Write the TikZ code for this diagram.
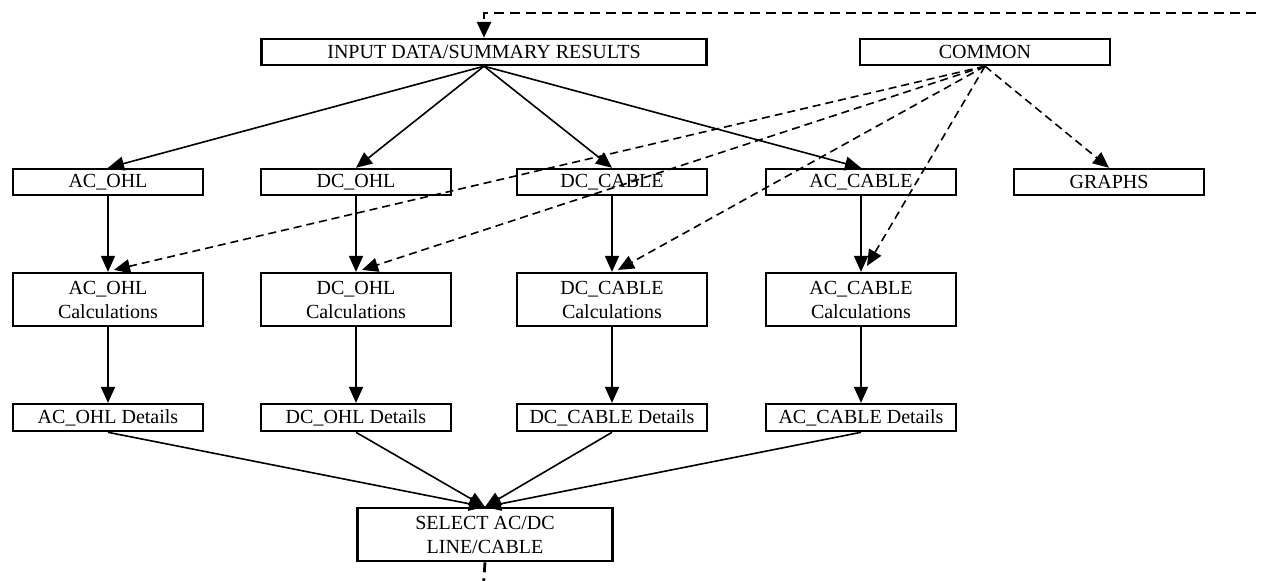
\documentclass[tikz,border=0pt]{standalone}
\usepackage{fontspec}
\setmainfont{Liberation Serif}
\usepackage{tikz}
\usetikzlibrary{arrows.meta,positioning}

\tikzset{
	module/.style={draw, line width=1.2pt, minimum width=9.5em, minimum height=1.3em, inner sep=0pt, align=center},
	flow/.style={line width=0.8pt, -{Triangle[length=8pt,width=7pt]}},
	uses/.style={line width=0.8pt, dash pattern=on 4pt off 2.5pt, -{Triangle[length=8pt,width=7pt]}},
	feedback/.style={line width=1.4pt, dash pattern=on 5pt off 3pt}
}

\begin{document}
\begin{tikzpicture}
	\useasboundingbox (0em, 0em) rectangle (63.05em, -29em);
	\node[module, minimum width=22.25em] (input)	at	(24.2em, -2.6em)	{INPUT DATA/SUMMARY RESULTS};
	\node[module, minimum width=12.5em] (common)	at	(49.25em, -2.6em)	{COMMON};
		\node[module] (acohl)		at	(5.4em, -9.1em)		{AC\_OHL};
		\node[module] (dcohl)		at	(17.8em, -9.1em)	{DC\_OHL};
		\node[module] (dccable)		at	(30.6em, -9.1em)	{DC\_CABLE};
		\node[module] (accable)		at	(43.05em, -9.1em)	{AC\_CABLE};
		\node[module] (graphs)		at	(55.45em, -9.1em)	{GRAPHS};
		\node[module, minimum height=2.65em] (acohlcalc)	at	(5.4em, -14.98em)	{AC\_OHL\\Calculations};
		\node[module, minimum height=2.65em] (dcohlcalc)	at	(17.8em, -14.98em)	{DC\_OHL\\Calculations};
		\node[module, minimum height=2.65em] (dccablecalc)	at	(30.6em, -14.98em)	{DC\_CABLE\\Calculations};
		\node[module, minimum height=2.65em] (accablecalc)	at	(43.05em, -14.98em)	{AC\_CABLE\\Calculations};
		\node[module, minimum height=1.35em] (acohldet)	at	(5.4em, -20.88em)	{AC\_OHL Details};
		\node[module, minimum height=1.35em] (dcohldet)	at	(17.8em, -20.88em)	{DC\_OHL Details};
		\node[module, minimum height=1.35em] (dccabledet)	at	(30.6em, -20.88em)	{DC\_CABLE Details};
		\node[module, minimum height=1.35em] (accabledet)	at	(43.05em, -20.88em)	{AC\_CABLE Details};
	\node[module, minimum width=12.75em, minimum height=2.65em] (select)	at	(24.25em, -26.73em)	{SELECT AC/DC\\LINE/CABLE};
	\coordinate (loopin)	at	(63.6em, -0.65em);
	\coordinate (loopout)	at	(24.15em, -29.6em);
		\draw[flow] (input.south) -- (acohl.north);
		\draw[flow] (input.south) -- (dcohl.north);
		\draw[flow] (input.south) -- (dccable.north);
		\draw[flow] (input.south) -- (accable.north);
		\draw[flow] (acohl) -- (acohlcalc);
		\draw[flow] (dcohl) -- (dcohlcalc);
		\draw[flow] (dccable) -- (dccablecalc);
		\draw[flow] (accable) -- (accablecalc);
		\draw[flow] (acohlcalc) -- (acohldet);
		\draw[flow] (dcohlcalc) -- (dcohldet);
		\draw[flow] (dccablecalc) -- (dccabledet);
		\draw[flow] (accablecalc) -- (accabledet);
		\draw[flow] (acohldet.south) -- (select.north);
		\draw[flow] (dcohldet.south) -- (select.north);
		\draw[flow] (dccabledet.south) -- (select.north);
		\draw[flow] (accabledet.south) -- (select.north);
		\draw[uses] (common.south) -- ([xshift=3pt, yshift=1pt]acohlcalc.north);
		\draw[uses] (common.south) -- ([xshift=3pt, yshift=1pt]dcohlcalc.north);
		\draw[uses] (common.south) -- ([xshift=3pt, yshift=1pt]dccablecalc.north);
		\draw[uses] (common.south) -- ([xshift=3pt, yshift=3pt]accablecalc.north);
		\draw[uses] (common.south) -- (graphs.north);
		\draw[feedback] (select.south) -- (loopout);
		\draw[feedback, -{Triangle[length=8pt,width=7pt]}] (loopin) -| (input.north);
\end{tikzpicture}
\end{document}
